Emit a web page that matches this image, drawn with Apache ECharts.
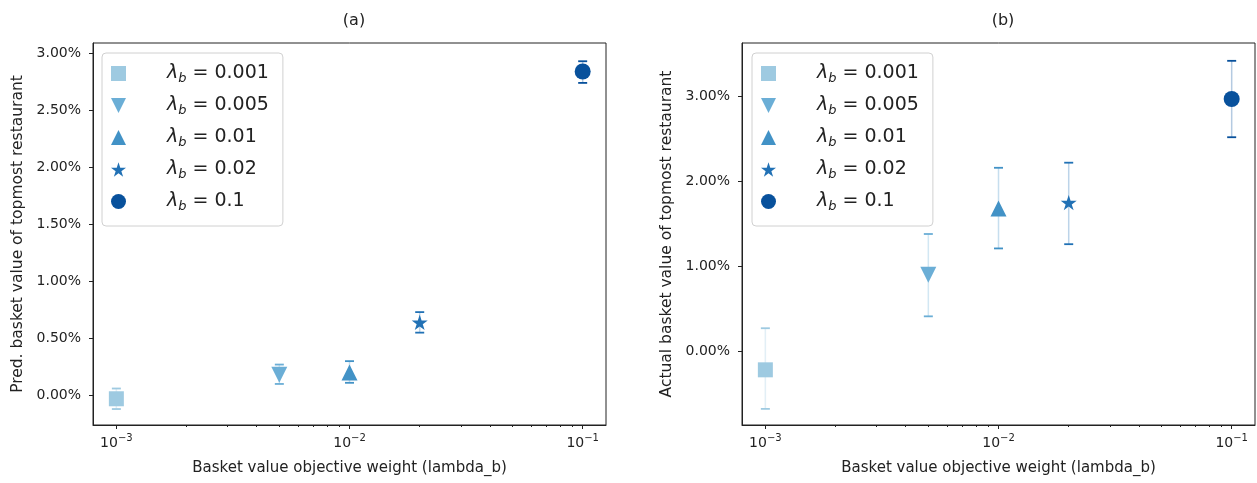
<!DOCTYPE html>
<html><head><meta charset="utf-8">
<script src="https://cdn.jsdelivr.net/npm/echarts@6/dist/echarts.min.js"></script>
<style>html,body{margin:0;padding:0;background:#fff}#c{width:1257px;height:483px}</style>
</head><body><div id="c"></div>
<script>
// ---- data ----
const lambdas = [0.001, 0.005, 0.01, 0.02, 0.1];
const lambdaLabels = ['0.001', '0.005', '0.01', '0.02', '0.1'];
const predMean = [-0.03, 0.18, 0.20, 0.64, 2.84];
const predLow  = [-0.12, 0.10, 0.11, 0.55, 2.74];
const predHigh = [0.06, 0.27, 0.30, 0.73, 2.93];
const actMean  = [-0.22, 0.90, 1.68, 1.75, 2.97];
const actLow   = [-0.68, 0.41, 1.21, 1.26, 2.52];
const actHigh  = [0.27, 1.38, 2.16, 2.22, 3.42];
const predTicks = [0, 0.5, 1, 1.5, 2, 2.5, 3];
const actTicks = [0, 1, 2, 3];
const xMajorTicks = [0.001, 0.01, 0.1];
const xMinorTicks = [0.002, 0.003, 0.004, 0.005, 0.006, 0.007, 0.008, 0.009,
                     0.02, 0.03, 0.04, 0.05, 0.06, 0.07, 0.08, 0.09];
const xRange = [0.000794, 0.1259];
const predRange = [-0.26, 3.09];
const actRange = [-0.87, 3.63];

// ---- styles ----
const FONT = 'DejaVu Sans';
const TXT = '#222';
const colors = ['#9ecae1', '#6baed6', '#4292c6', '#2171b5', '#08519c'];
const STAR = 'path://M50,0 L61.2,34.5 L97.6,34.5 L68.2,55.9 L79.4,90.5 L50,69.1 L20.6,90.5 L31.8,55.9 L2.4,34.5 L38.8,34.5 Z';
const DOWN = 'path://M0,0 L20,0 L10,20 Z';
const symbols = ['rect', DOWN, 'triangle', STAR, 'circle'];
const sizes = [15, 16, 16, 16, 16];

const chart = echarts.init(document.getElementById('c'));

function supFmt(v) {
  const e = Math.round(Math.log10(v));
  return '{b|10}{s|' + (e < 0 ? '\u2212' + (-e) : e) + '}';
}

function xAxisMain(gi) {
  return {
    type: 'log', gridIndex: gi, min: xRange[0], max: xRange[1], logBase: 10,
    name: 'Basket value objective weight (lambda_b)', nameLocation: 'middle', nameGap: 36,
    nameTextStyle: { fontFamily: FONT, fontSize: 15, color: TXT },
    axisLine: { show: true, onZero: false, lineStyle: { color: TXT, width: 1 } },
    axisTick: { show: true, length: 4, customValues: xMajorTicks, lineStyle: { color: TXT } },
    axisLabel: {
      customValues: xMajorTicks, margin: 8, formatter: supFmt, color: TXT,
      rich: {
        b: { fontFamily: FONT, fontSize: 14, color: TXT },
        s: { fontFamily: FONT, fontSize: 10, color: TXT, padding: [0, 0, 10, 0] }
      }
    },
    splitLine: { show: false }, minorTick: { show: false }
  };
}
function xAxisMinor(gi) {
  return {
    type: 'log', gridIndex: gi, min: xRange[0], max: xRange[1], logBase: 10, position: 'bottom',
    axisLine: { show: false, onZero: false },
    axisTick: { show: true, length: 2, customValues: xMinorTicks, lineStyle: { color: TXT } },
    axisLabel: { show: false }, splitLine: { show: false }
  };
}
function yAxis(gi, range, ticks, name) {
  return {
    type: 'value', gridIndex: gi, min: range[0], max: range[1],
    name: name, nameLocation: 'middle', nameGap: 67,
    nameTextStyle: { fontFamily: FONT, fontSize: 15.5, color: TXT },
    axisLine: { show: true, onZero: false, lineStyle: { color: TXT, width: 1 } },
    axisTick: { show: true, length: 4, customValues: ticks, lineStyle: { color: TXT } },
    axisLabel: { customValues: ticks, margin: 12, fontFamily: FONT, fontSize: 14, color: TXT,
      formatter: v => v.toFixed(2) + '%' },
    splitLine: { show: false }
  };
}

function errSeries(gi, lows, highs) {
  return {
    type: 'custom', xAxisIndex: gi, yAxisIndex: gi, silent: true, clip: false, z: 1,
    data: lambdas.map((x, i) => [x, lows[i], highs[i], i]),
    renderItem(params, api) {
      const x = api.value(0);
      const lo = api.coord([x, api.value(1)]);
      const hi = api.coord([x, api.value(2)]);
      const c = colors[api.value(3)];
      const w = 4.5;
      return { type: 'group', children: [
        { type: 'line', shape: { x1: lo[0], y1: lo[1], x2: hi[0], y2: hi[1] }, style: { stroke: c, opacity: 0.3, lineWidth: 1.5 } },
        { type: 'line', shape: { x1: lo[0] - w, y1: lo[1], x2: lo[0] + w, y2: lo[1] }, style: { stroke: c, lineWidth: 1.8 } },
        { type: 'line', shape: { x1: hi[0] - w, y1: hi[1], x2: hi[0] + w, y2: hi[1] }, style: { stroke: c, lineWidth: 1.8 } }
      ] };
    }
  };
}

function pointSeries(gi, means) {
  return lambdas.map((x, i) => ({
    type: 'scatter', name: lambdaLabels[i], xAxisIndex: gi, yAxisIndex: gi, z: 3,
    symbol: symbols[i], symbolSize: sizes[i], symbolKeepAspect: true,
    itemStyle: { color: colors[i], opacity: 1 },
    data: [[x, means[i]]]
  }));
}

function legend(left) {
  return {
    orient: 'vertical', left: left, top: 53, itemWidth: 15, itemHeight: 15, itemGap: 11,
    padding: [11, 14, 13, 9], backgroundColor: '#fff', borderColor: '#d0d0d0', borderWidth: 1, borderRadius: 4,
    data: lambdaLabels.map((n, i) => ({ name: n, icon: symbols[i] })),
    formatter: n => '{i|\u03bb}{s|b}{t| = ' + n + '}',
    textStyle: {
      padding: [0, 0, 0, 36], color: TXT,
      rich: {
        i: { fontFamily: FONT, fontSize: 19, fontStyle: 'italic', color: TXT },
        s: { fontFamily: FONT, fontSize: 13, fontStyle: 'italic', color: TXT, padding: [10, 0, 0, 0] },
        t: { fontFamily: FONT, fontSize: 19, color: TXT }
      }
    },
    selectedMode: false
  };
}

chart.setOption({
  animation: false,
  title: [
    { text: '(a)', left: 349, top: 8, textAlign: 'center', textStyle: { fontFamily: FONT, fontSize: 16, fontWeight: 'normal', color: TXT } },
    { text: '(b)', left: 998, top: 8, textAlign: 'center', textStyle: { fontFamily: FONT, fontSize: 16, fontWeight: 'normal', color: TXT } }
  ],
  grid: [
    { left: 93, top: 43, width: 513, height: 382, show: true, borderColor: TXT, borderWidth: 1, backgroundColor: 'transparent' },
    { left: 742, top: 43, width: 513, height: 382, show: true, borderColor: TXT, borderWidth: 1, backgroundColor: 'transparent' }
  ],
  xAxis: [xAxisMain(0), xAxisMain(1), xAxisMinor(0), xAxisMinor(1)],
  yAxis: [
    yAxis(0, predRange, predTicks, 'Pred. basket value of topmost restaurant'),
    yAxis(1, actRange, actTicks, 'Actual basket value of topmost restaurant')
  ],
  legend: [legend(102), legend(752)],
  series: [
    errSeries(0, predLow, predHigh),
    errSeries(1, actLow, actHigh),
    ...pointSeries(0, predMean),
    ...pointSeries(1, actMean)
  ]
});
</script>
</body></html>
